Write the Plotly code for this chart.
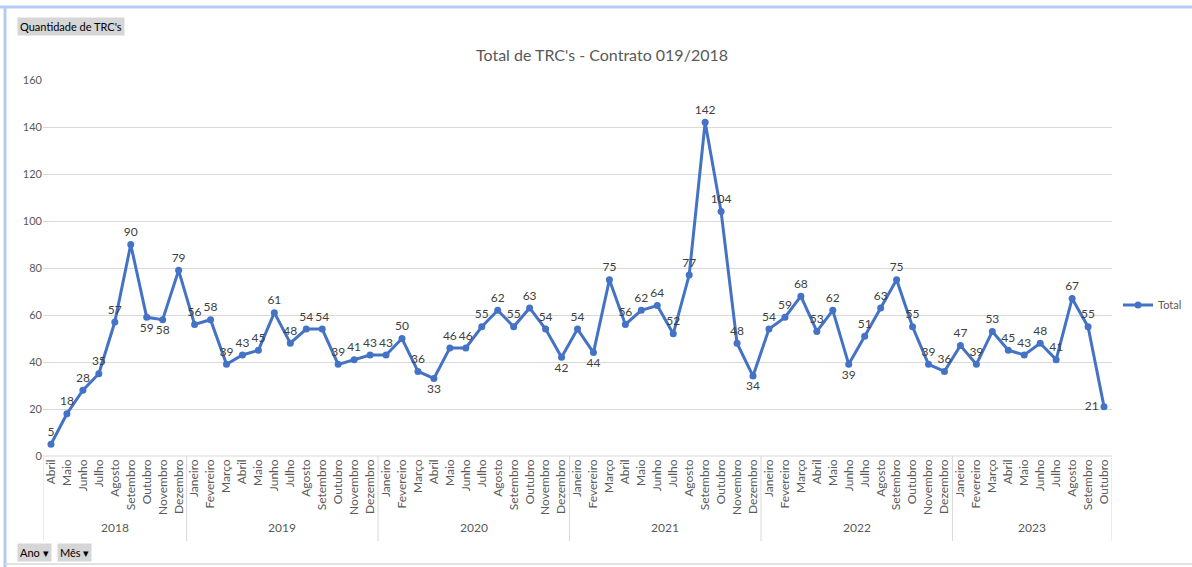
import plotly.graph_objects as go

meses = ["Janeiro", "Fevereiro", "Março", "Abril", "Maio", "Junho", "Julho",
         "Agosto", "Setembro", "Outubro", "Novembro", "Dezembro"]

total_2018 = [5, 18, 28, 35, 57, 90, 59, 58, 79]          # Abril..Dezembro
total_2019 = [56, 58, 39, 43, 45, 61, 48, 54, 54, 39, 41, 43]
total_2020 = [43, 50, 36, 33, 46, 46, 55, 62, 55, 63, 54, 42]
total_2021 = [54, 44, 75, 56, 62, 64, 52, 77, 142, 104, 48, 34]
total_2022 = [54, 59, 68, 53, 62, 39, 51, 63, 75, 55, 39, 36]
total_2023 = [47, 39, 53, 45, 43, 48, 41, 67, 55, 21]    # Janeiro..Outubro

anos = ["2018", "2019", "2020", "2021", "2022", "2023"]
series = [total_2018, total_2019, total_2020, total_2021, total_2022, total_2023]
inicio = [3, 0, 0, 0, 0, 0]

x_ano, x_mes, y = [], [], []
for ano, vals, s in zip(anos, series, inicio):
    for i, v in enumerate(vals):
        x_ano.append(ano)
        x_mes.append(meses[s + i])
        y.append(v)
idx = list(range(len(y)))

# label placement (style)
below = {("2018", "Outubro"), ("2018", "Novembro"), ("2020", "Abril"),
         ("2020", "Dezembro"), ("2021", "Fevereiro"), ("2021", "Dezembro"),
         ("2022", "Junho")}
pos = []
for a, m in zip(x_ano, x_mes):
    if (a, m) in below:
        pos.append("bottom center")
    elif (a, m) == ("2023", "Outubro"):
        pos.append("middle left")
    else:
        pos.append("top center")

FONT = "Lato, 'Liberation Sans', sans-serif"
BLUE = "#4472C4"
GRID = "#d9d9d9"

fig = go.Figure()
fig.add_trace(go.Scatter(
    x=idx, y=y, name="Total", mode="lines+markers+text",
    line=dict(color=BLUE, width=3), marker=dict(color=BLUE, size=7),
    text=[str(v) for v in y], textposition=pos,
    textfont=dict(size=12, color="#404040", family=FONT),
    cliponaxis=False,
))

L, R, T, B = 43, 1112, 80, 456
W, H = 1192, 567
def px(xp): return (xp - L) / (R - L)
def py(yp): return (B - yp) / (B - T)

# year group boundaries / centres from the data
bounds = [-0.5]
centres = []
k = 0
for vals in series:
    centres.append(k + (len(vals) - 1) / 2)
    k += len(vals)
    bounds.append(k - 0.5)

shapes = [
    dict(type="line", xref="x", yref="paper", x0=b, x1=b, y0=0, y1=py(541),
         line=dict(color=GRID, width=1)) for b in bounds
]
shapes += [
    dict(type="line", xref="paper", yref="paper", x0=0, x1=1, y0=0, y1=0,
         line=dict(color=GRID, width=1)),
    dict(type="line", xref="paper", yref="paper", x0=px(0), x1=px(W), y0=py(7), y1=py(7),
         line=dict(color="#b4ccf5", width=3)),
    dict(type="line", xref="paper", yref="paper", x0=px(5), x1=px(5), y0=py(7), y1=py(H),
         line=dict(color="#b4ccf5", width=3)),
    dict(type="line", xref="paper", yref="paper", x0=px(5), x1=px(W), y0=py(564), y1=py(564),
         line=dict(color=GRID, width=1.5)),
]

annotations = [
    dict(text=a, xref="x", yref="paper", x=c, y=py(527), xanchor="center", yanchor="middle",
         showarrow=False, font=dict(size=12, color="#595959", family=FONT))
    for a, c in zip(anos, centres)
]
btn = dict(xref="paper", yref="paper", xanchor="left", yanchor="top", showarrow=False,
           bgcolor="#d6d6d6", font=dict(size=11, color="#000000", family=FONT), borderpad=2)
annotations += [
    dict(text="Quantidade de TRC's", x=px(17), y=py(17), **btn),
    dict(text="Ano ▾", x=px(17), y=py(543), **btn),
    dict(text="Mês ▾", x=px(57), y=py(543), **btn),
]

fig.update_layout(
    width=W, height=H,
    margin=dict(l=L, r=W - R, t=T, b=H - B, autoexpand=False),
    paper_bgcolor="white", plot_bgcolor="white",
    font=dict(family=FONT, color="#595959", size=11),
    title=dict(text="Total de TRC's - Contrato 019/2018", x=602 / W, xanchor="center",
               y=1 - 55 / H, yanchor="middle", font=dict(size=16, color="#595959", family=FONT)),
    showlegend=True,
    legend=dict(x=px(1118), y=py(305), xanchor="left", yanchor="middle",
                font=dict(size=11, color="#595959", family=FONT), bgcolor="rgba(0,0,0,0)"),
    xaxis=dict(range=[-0.5, len(y) - 0.5], tickvals=idx, ticktext=x_mes, tickangle=-90,
               showgrid=False, zeroline=False, showline=False, ticks="", automargin=False,
               tickfont=dict(size=12, color="#595959", family=FONT)),
    yaxis=dict(range=[0, 160], dtick=20, showgrid=True, gridcolor=GRID, gridwidth=1,
               zeroline=False, showline=False, ticks="", automargin=False,
               tickfont=dict(size=11, color="#595959", family=FONT)),
    shapes=shapes,
    annotations=annotations,
)

fig.write_html("out.html", config={"displayModeBar": False},
               post_script="document.body.style.margin='0';document.body.style.overflow='hidden';")
